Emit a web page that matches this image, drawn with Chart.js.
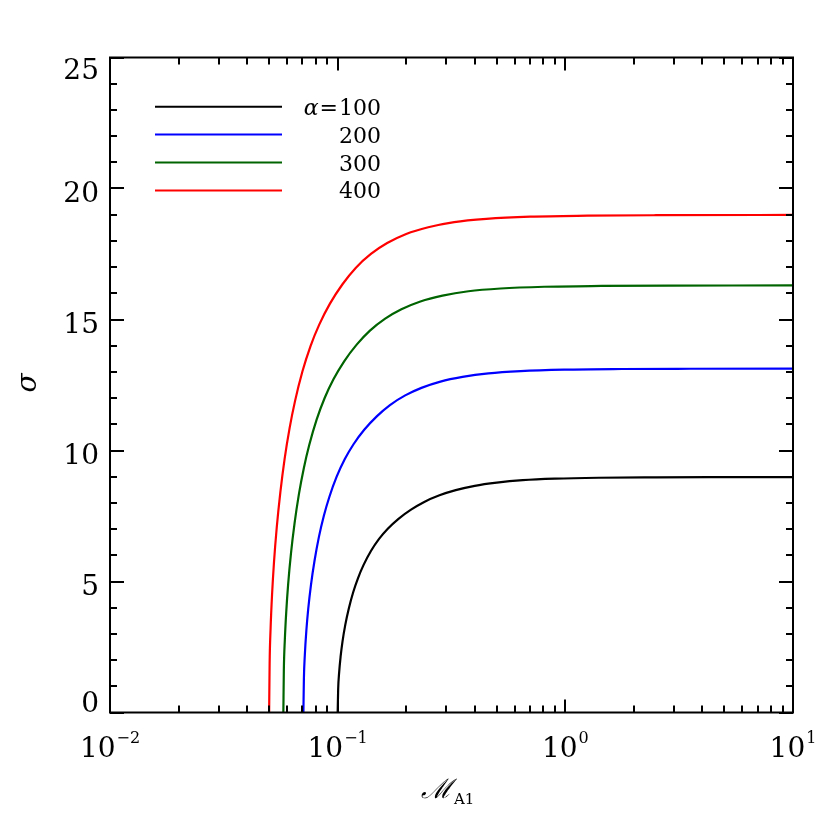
<!DOCTYPE html>
<html>
<head>
<meta charset="utf-8">
<script src="https://cdn.jsdelivr.net/npm/chart.js@4/dist/chart.umd.min.js"></script>
<style>
  html, body { margin: 0; padding: 0; background: #fff; }
  #wrap { width: 830px; height: 830px; }
</style>
</head>
<body>
<div id="wrap"><canvas id="c" width="830" height="830"></canvas></div>
<script>
// ---- data (M_A1 values, sigma values) ----
const alphas = [100, 200, 300, 400];

const m100 = [0.1, 0.1005, 0.1015, 0.103, 0.105, 0.108, 0.112, 0.117, 0.123, 0.13, 0.14, 0.152, 0.166, 0.185, 0.21, 0.24, 0.28, 0.33, 0.40, 0.50, 0.65, 0.9, 1.4, 2.5, 5.0, 10];
const s100 = [0, 0.887, 1.524, 2.129, 2.708, 3.345, 3.981, 4.591, 5.142, 5.634, 6.164, 6.625, 7.013, 7.392, 7.743, 8.038, 8.290, 8.487, 8.652, 8.773, 8.866, 8.924, 8.960, 8.975, 8.982, 8.985];

const m200 = [0.07071, 0.07107, 0.07177, 0.07283, 0.07425, 0.07637, 0.0792, 0.08273, 0.08697, 0.09192, 0.09899, 0.1075, 0.1174, 0.1308, 0.1485, 0.1697, 0.198, 0.2333, 0.2828, 0.3536, 0.4596, 0.6364, 0.9899, 1.768, 3.536, 10];
const s200 = [0, 1.296, 2.225, 3.109, 3.954, 4.884, 5.812, 6.703, 7.507, 8.226, 9.000, 9.672, 10.239, 10.792, 11.304, 11.735, 12.103, 12.391, 12.631, 12.809, 12.944, 13.030, 13.085, 13.110, 13.120, 13.125];

const m300 = [0.05774, 0.05802, 0.0586, 0.05947, 0.06062, 0.06235, 0.06466, 0.06755, 0.07101, 0.07506, 0.08083, 0.08776, 0.09584, 0.1068, 0.1212, 0.1386, 0.1617, 0.1905, 0.2309, 0.2887, 0.3753, 0.5196, 0.8083, 1.443, 2.887, 10];
const s300 = [0, 1.609, 2.763, 3.861, 4.911, 6.066, 7.218, 8.325, 9.324, 10.216, 11.178, 12.013, 12.717, 13.404, 14.040, 14.575, 15.032, 15.390, 15.688, 15.909, 16.077, 16.183, 16.250, 16.280, 16.294, 16.30];

const m400 = [0.05, 0.05025, 0.05075, 0.0515, 0.0525, 0.054, 0.056, 0.0585, 0.0615, 0.065, 0.07, 0.076, 0.083, 0.0925, 0.105, 0.12, 0.14, 0.165, 0.20, 0.25, 0.325, 0.45, 0.7, 1.25, 2.5, 10];
const s400 = [0, 1.873, 3.217, 4.495, 5.717, 7.062, 8.404, 9.692, 10.855, 11.894, 13.013, 13.986, 14.805, 15.605, 16.346, 16.969, 17.501, 17.917, 18.265, 18.521, 18.717, 18.840, 18.924, 18.962, 18.980, 18.99];

const yTickLabels = [0, 5, 10, 15, 20, 25];
const xTickExponents = [-2, -1, 0, 1];
const legendLabels = ['100', '200', '300', '400'];

// ---- styles ----
const lineColors = ['#000000', '#0000ff', '#006400', '#ff0000'];
const FONT = '"DejaVu Serif", "Liberation Serif", serif';

const seriesM = [m100, m200, m300, m400];
const seriesS = [s100, s200, s300, s400];

const datasets = alphas.map((a, i) => ({
  label: 'alpha=' + a,
  data: seriesM[i].map((m, j) => ({ x: m, y: seriesS[i][j] })),
  borderColor: lineColors[i],
  borderWidth: 2.2,
  pointRadius: 0,
  showLine: true,
  fill: false,
  cubicInterpolationMode: 'monotone'
}));

const PLOT = { left: 110, top: 57.5, right: 793, bottom: 712.5 };

const framePlugin = {
  id: 'frame',
  afterDatasetsDraw(chart) {
    const ctx = chart.ctx;
    const { left, right, top, bottom } = chart.chartArea;
    const xs = chart.scales.x, ys = chart.scales.y;
    ctx.save();
    ctx.strokeStyle = '#000';
    ctx.fillStyle = '#000';
    ctx.lineWidth = 2;
    ctx.lineCap = 'butt';
    ctx.strokeRect(left, top, right - left, bottom - top);

    // x ticks (log): majors at decades, minors at 2..9
    ctx.beginPath();
    for (let e = -2; e <= 1; e++) {
      for (let k = 1; k <= 9; k++) {
        const v = k * Math.pow(10, e);
        if (v > 10.0001) continue;
        const px = Math.round(xs.getPixelForValue(v));
        const len = k === 1 ? 13 : 7;
        ctx.moveTo(px, bottom); ctx.lineTo(px, bottom - len);
        ctx.moveTo(px, top); ctx.lineTo(px, top + len);
      }
    }
    // y ticks
    for (let v = 0; v <= 25; v++) {
      const py = Math.round(ys.getPixelForValue(v));
      const len = v % 5 === 0 ? 14 : 7;
      ctx.moveTo(left, py); ctx.lineTo(left + len, py);
      ctx.moveTo(right, py); ctx.lineTo(right - len, py);
    }
    ctx.stroke();

    // y tick labels
    ctx.font = '28px ' + FONT;
    ctx.textAlign = 'right';
    ctx.textBaseline = 'alphabetic';
    const dh = 20.4;
    yTickLabels.forEach(v => {
      const py = ys.getPixelForValue(v);
      let base = py + 3 + dh / 2;
      base = Math.max(top + dh + 1, Math.min(bottom - 0.5, base));
      ctx.fillText(String(v), 99, base);
    });

    // x tick labels 10^n
    xTickExponents.forEach(e => {
      const px = xs.getPixelForValue(Math.pow(10, e));
      const main = '10';
      const sup = e < 0 ? '\u2212' + Math.abs(e) : String(e);
      ctx.font = '28px ' + FONT;
      const w1 = ctx.measureText(main).width;
      ctx.font = '16px ' + FONT;
      const w2 = ctx.measureText(sup).width;
      const x0 = px - (w1 + w2 + 1) / 2;
      ctx.textAlign = 'left';
      ctx.font = '28px ' + FONT;
      ctx.fillText(main, x0, 757);
      ctx.font = '16px ' + FONT;
      ctx.fillText(sup, x0 + w1 + 1, 743);
    });

    // x axis title: script M with subscript A1
    ctx.textAlign = 'left';
    ctx.font = 'italic 27px ' + FONT;
    ctx.fillText('\u2133', 421, 798);
    ctx.font = '15px ' + FONT;
    ctx.fillText('A1', 454, 804);

    // y axis title sigma (rotated)
    ctx.save();
    ctx.translate(36, 383);
    ctx.rotate(-Math.PI / 2);
    ctx.textAlign = 'center';
    ctx.font = 'italic 28px ' + FONT;
    ctx.fillText('\u03c3', 0, 0);
    ctx.restore();

    // legend
    const ly0 = 106.7, dy = 27.9;
    chart.data.datasets.forEach((ds, i) => {
      const yy = ly0 + i * dy;
      ctx.strokeStyle = ds.borderColor;
      ctx.lineWidth = 2;
      ctx.beginPath();
      ctx.moveTo(155, yy); ctx.lineTo(282, yy);
      ctx.stroke();
      ctx.fillStyle = '#000';
      ctx.textAlign = 'right';
      ctx.font = '22px ' + FONT;
      ctx.fillText(legendLabels[i], 381, yy + 8);
      if (i === 0) {
        const w = ctx.measureText(legendLabels[i]).width;
        ctx.fillText('=', 381 - w - 1, yy + 8);
        const we = ctx.measureText('=').width;
        ctx.font = 'italic 22px ' + FONT;
        ctx.fillText('\u03b1', 381 - w - we - 2, yy + 8);
      }
    });
    ctx.restore();
  }
};

new Chart(document.getElementById('c'), {
  type: 'scatter',
  data: { datasets },
  options: {
    responsive: false,
    animation: false,
    devicePixelRatio: 1,
    layout: { padding: { left: 0, top: PLOT.top, right: 830 - PLOT.right, bottom: 0 } },
    plugins: { legend: { display: false }, tooltip: { enabled: false } },
    scales: {
      x: {
        type: 'logarithmic', min: 0.01, max: 10,
        grid: { display: false }, border: { display: false },
        ticks: { display: false },
        afterFit(s) { s.height = 830 - PLOT.bottom; }
      },
      y: {
        type: 'linear', min: 0, max: 25,
        grid: { display: false }, border: { display: false },
        ticks: { display: false },
        afterFit(s) { s.width = PLOT.left; }
      }
    }
  },
  plugins: [framePlugin]
});
</script>
</body>
</html>
